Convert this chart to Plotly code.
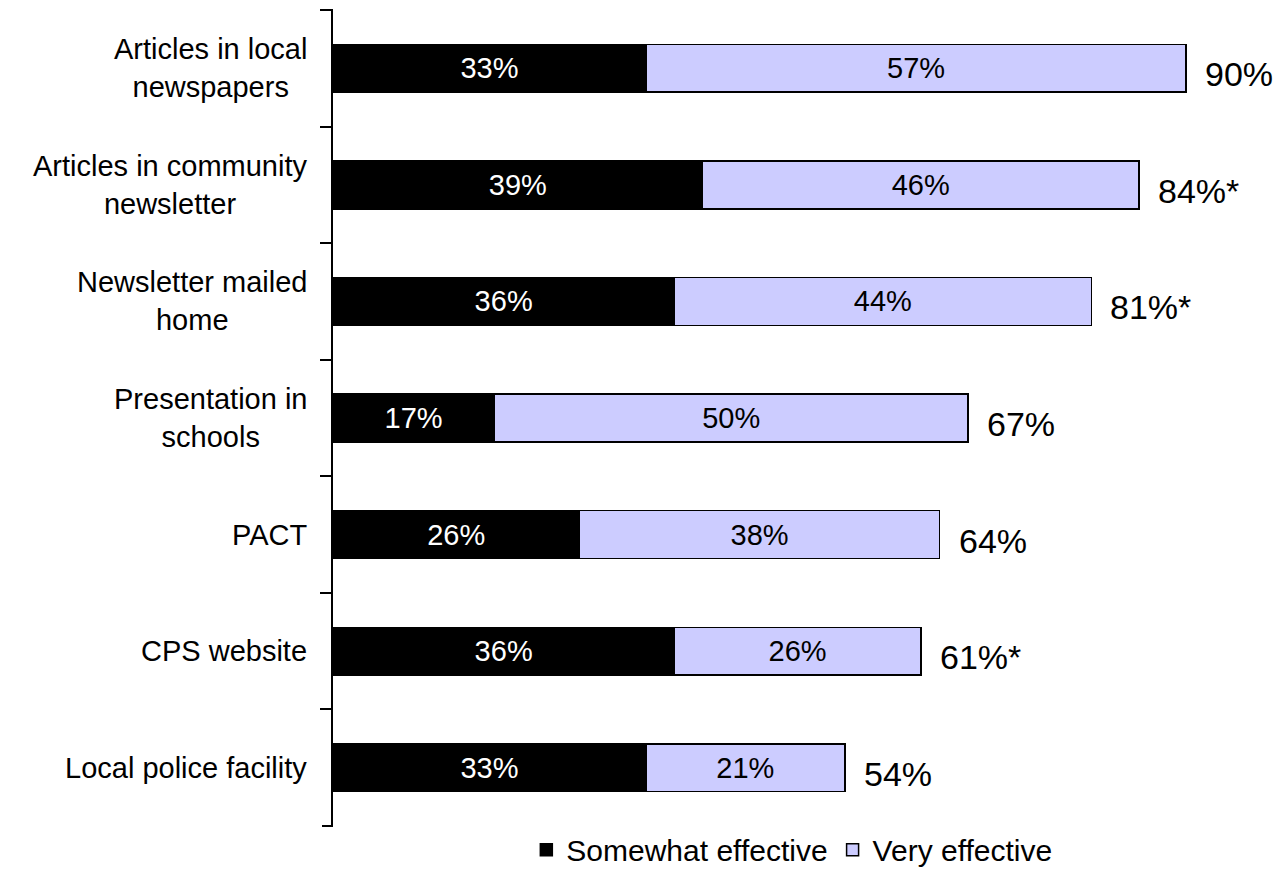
import plotly.graph_objects as go

categories = ["Articles in local<br>newspapers", "Articles in community<br>newsletter",
              "Newsletter mailed<br>home", "Presentation in<br>schools", "PACT",
              "CPS website", "Local police facility"]
cat_ids = ["c0", "c1", "c2", "c3", "c4", "c5", "c6"]
somewhat = [33, 39, 36, 17, 26, 36, 33]
very = [57, 46, 44, 50, 38, 26, 21]
totals = [90, 85, 80, 67, 64, 62, 54]
total_labels = ["90%", "84%*", "81%*", "67%", "64%", "61%*", "54%"]

FONT = "Liberation Sans, Arial, sans-serif"

fig = go.Figure()
fig.add_trace(go.Bar(
    y=cat_ids, x=somewhat, orientation="h", name="Somewhat effective",
    marker=dict(color="#000000", line=dict(color="#000000", width=1.5)),
    text=[f"{v}%" for v in somewhat], textposition="inside", insidetextanchor="middle",
    textfont=dict(color="white", size=29, family=FONT), hoverinfo="skip"))
fig.add_trace(go.Bar(
    y=cat_ids, x=very, orientation="h", name="Very effective",
    marker=dict(color="#CCCCFF", line=dict(color="#000000", width=1.5)),
    text=[f"{v}%" for v in very], textposition="inside", insidetextanchor="middle",
    textfont=dict(color="black", size=29, family=FONT), hoverinfo="skip"))

annotations = []
for cid, t, lab in zip(cat_ids, totals, total_labels):
    annotations.append(dict(x=t, y=cid, xref="x", yref="y", text=lab, showarrow=False,
                            xanchor="left", xshift=17, yshift=-6,
                            font=dict(size=34, color="black", family=FONT)))
for cid, lab in zip(cat_ids, categories):
    annotations.append(dict(x=0, y=cid, xref="paper", yref="y", text=lab, showarrow=False,
                            xanchor="right", xshift=-24, align="center",
                            font=dict(size=29, color="black", family=FONT)))

# end ticks at the top and bottom of the category axis
shapes = []
for yy in (0, 1):
    shapes.append(dict(type="line", xref="paper", yref="paper", xsizemode="pixel", xanchor=0,
                       x0=-11, x1=0, y0=yy, y1=yy, line=dict(color="black", width=2)))

fig.update_layout(
    barmode="stack", bargap=0.59,
    width=1276, height=861,
    margin=dict(l=325, r=3, t=2, b=43, autoexpand=False),
    plot_bgcolor="white", paper_bgcolor="white",
    font=dict(family=FONT, color="black"),
    showlegend=True,
    legend=dict(orientation="h", x=0.484, xanchor="center", y=-0.029, yanchor="middle",
                font=dict(size=30, family=FONT), traceorder="normal", itemwidth=30,
                bgcolor="rgba(0,0,0,0)"),
    annotations=annotations,
    shapes=shapes,
)
fig.update_xaxes(range=[0, 100], showgrid=False, zeroline=False, showline=False,
                 showticklabels=False, ticks="")
fig.update_yaxes(autorange="reversed", showgrid=False, zeroline=False, showline=True,
                 linecolor="black", linewidth=2, ticks="outside", ticklen=11, tickwidth=2,
                 tickcolor="black", tickson="boundaries", showticklabels=False,
                 categoryorder="array", categoryarray=cat_ids)

fig.write_html("out.html")
